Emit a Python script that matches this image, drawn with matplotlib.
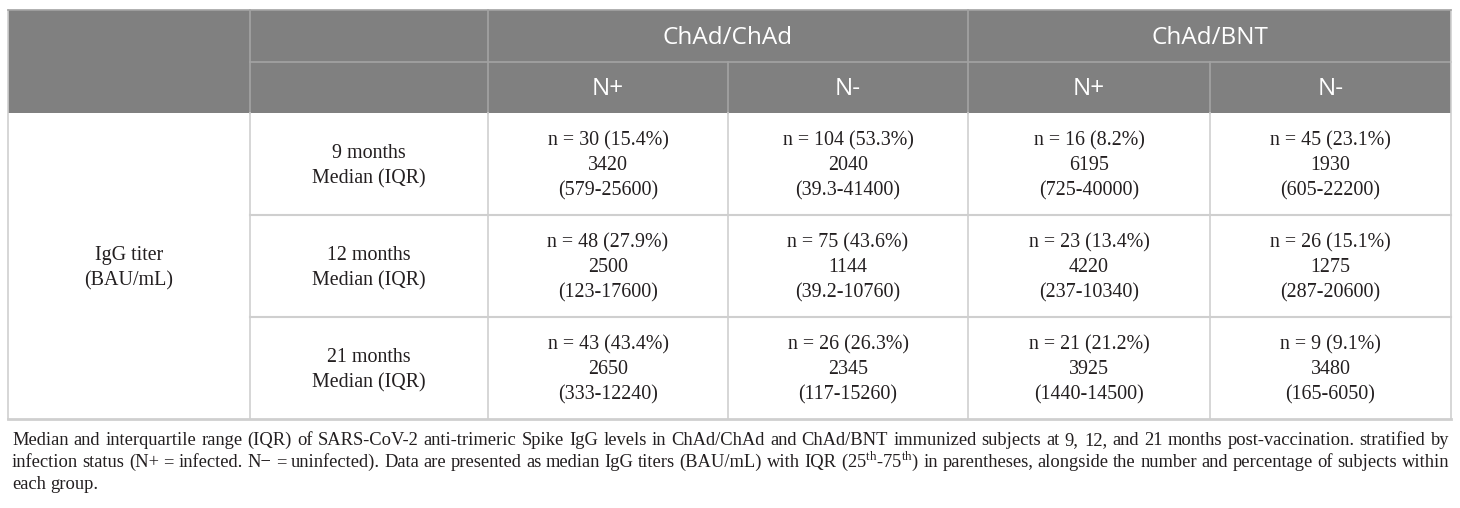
import matplotlib
matplotlib.use("Agg")
import matplotlib.pyplot as plt
from matplotlib.patches import Rectangle

plt.rcParams['mathtext.fontset'] = 'custom'
plt.rcParams['mathtext.rm'] = 'Liberation Serif'

# Données du tableau
vaccins = ["ChAd/ChAd", "ChAd/BNT"]
statuts = ["N+", "N-", "N+", "N-"]
etiquette_ligne = ["IgG titer", "(BAU/mL)"]
temps = ["9 months", "12 months", "21 months"]

effectifs = [[30, 104, 16, 45],
             [48, 75, 23, 26],
             [43, 26, 21, 9]]
pourcentages = [[15.4, 53.3, 8.2, 23.1],
                [27.9, 43.6, 13.4, 15.1],
                [43.4, 26.3, 21.2, 9.1]]
medianes = [[3420, 2040, 6195, 1930],
            [2500, 1144, 4220, 1275],
            [2650, 2345, 3925, 3480]]
iqr = [["579-25600", "39.3-41400", "725-40000", "605-22200"],
       ["123-17600", "39.2-10760", "237-10340", "287-20600"],
       ["333-12240", "117-15260", "1440-14500", "165-6050"]]

legende = [
    "Median and interquartile range (IQR) of SARS-CoV-2 anti-trimeric Spike IgG levels in ChAd/ChAd "
    "and ChAd/BNT immunized subjects at 9, 12, and 21 months post-vaccination. stratified by",
    "infection status (N+ = infected. N\u2212 = uninfected). Data are presented as median IgG titers "
    "(BAU/mL) with IQR (25$^{\\mathrm{th}}$-75$^{\\mathrm{th}}$) in parentheses, alongside the number "
    "and percentage of subjects within",
    "each group.",
]

# Mise en page (pixels)
col_x = [8, 250, 488, 728, 968, 1210, 1451]
row_y = [10, 62, 113, 215, 317, 419]
gris_entete = "#808080"
ligne_entete = "#a3a3a3"
ligne_corps = "#cfcfcf"
encre = "#231f20"
serif = "Liberation Serif"
sans = "Open Sans"
taille_corps = 14.4
taille_entete = 17.5
interligne = 25

fig = plt.figure(figsize=(14.6, 5.08), dpi=100)
ax = fig.add_axes([0, 0, 1, 1])
ax.set_xlim(0, 1460)
ax.set_ylim(508, 0)
ax.axis('off')


def bloc(xc, yc, lignes):
    # lignes centrées, ligne de base calée sur le centre de la cellule
    n = len(lignes)
    for k, t in enumerate(lignes):
        yb = yc + 6.5 + (k - (n - 1) / 2) * interligne
        ax.text(xc, yb, t, ha='center', va='baseline', fontsize=taille_corps,
                family=serif, color=encre)


# Fond de l'en-tête
ax.add_patch(Rectangle((col_x[0], row_y[0]), col_x[-1] - col_x[0], row_y[2] - row_y[0],
                       facecolor=gris_entete, edgecolor='none'))

# Lignes de l'en-tête
ax.plot([col_x[1], col_x[-1]], [row_y[1], row_y[1]], color=ligne_entete, lw=1.2)
for x in [col_x[1], col_x[2], col_x[4]]:
    ax.plot([x, x], [row_y[0], row_y[2]], color=ligne_entete, lw=1.2)
for x in [col_x[3], col_x[5]]:
    ax.plot([x, x], [row_y[1], row_y[2]], color=ligne_entete, lw=1.2)

# Lignes du corps
for y in row_y[3:5]:
    ax.plot([col_x[1], col_x[-1]], [y, y], color=ligne_corps, lw=1.5)
for x in col_x[1:-1]:
    ax.plot([x, x], [row_y[2], row_y[-1]], color=ligne_corps, lw=1.2)
ax.plot([col_x[0], col_x[0]], [row_y[0], row_y[-1]], color=ligne_corps, lw=1.2)
ax.plot([col_x[-1], col_x[-1]], [row_y[0], row_y[-1]], color=ligne_corps, lw=1.2)
ax.plot([col_x[0], col_x[-1]], [row_y[-1], row_y[-1]], color=ligne_corps, lw=2)
ax.plot([col_x[0], col_x[-1]], [row_y[0], row_y[0]], color=ligne_entete, lw=1.2)

# Textes de l'en-tête
for i, v in enumerate(vaccins):
    xc = (col_x[2 + 2 * i] + col_x[4 + 2 * i]) / 2
    ax.text(xc, (row_y[0] + row_y[1]) / 2 + 7.5, v, ha='center', va='baseline',
            color='white', fontsize=taille_entete, family=sans)
for j, s in enumerate(statuts):
    xc = (col_x[2 + j] + col_x[3 + j]) / 2
    ax.text(xc, (row_y[1] + row_y[2]) / 2 + 7.5, s, ha='center', va='baseline',
            color='white', fontsize=taille_entete, family=sans)

# Corps du tableau
bloc((col_x[0] + col_x[1]) / 2, (row_y[2] + row_y[-1]) / 2, etiquette_ligne)
for i, t in enumerate(temps):
    yc = (row_y[2 + i] + row_y[3 + i]) / 2
    bloc((col_x[1] + col_x[2]) / 2, yc, [t, "Median (IQR)"])
    for j in range(4):
        xc = (col_x[2 + j] + col_x[3 + j]) / 2
        bloc(xc, yc, ["n = %d (%.1f%%)" % (effectifs[i][j], pourcentages[i][j]),
                      "%d" % medianes[i][j],
                      "(%s)" % iqr[i][j]])

# Légende justifiée
renderer = fig.canvas.get_renderer()
x_gauche, x_droite = 12, 1449
bases = [445, 467, 489]

# taille de police réduite si la première ligne déborde
essai = ax.text(0, 0, legende[0], fontsize=13.5, family=serif)
largeur_essai = essai.get_window_extent(renderer).width
essai.remove()
taille_legende = min(13.5, 13.5 * (x_droite - x_gauche - 8) / largeur_essai)

for k, ligne in enumerate(legende):
    mots = ligne.split(" ")
    objets = [ax.text(0, bases[k], m, ha='left', va='baseline', fontsize=taille_legende,
                      family=serif, color=encre) for m in mots]
    largeurs = [o.get_window_extent(renderer).width for o in objets]
    if k < len(legende) - 1:
        espace = (x_droite - x_gauche - sum(largeurs)) / (len(mots) - 1)
    else:
        espace = 4
    x = x_gauche
    for o, w in zip(objets, largeurs):
        o.set_x(x)
        x += w + espace

fig.savefig("out.png", dpi=100)
